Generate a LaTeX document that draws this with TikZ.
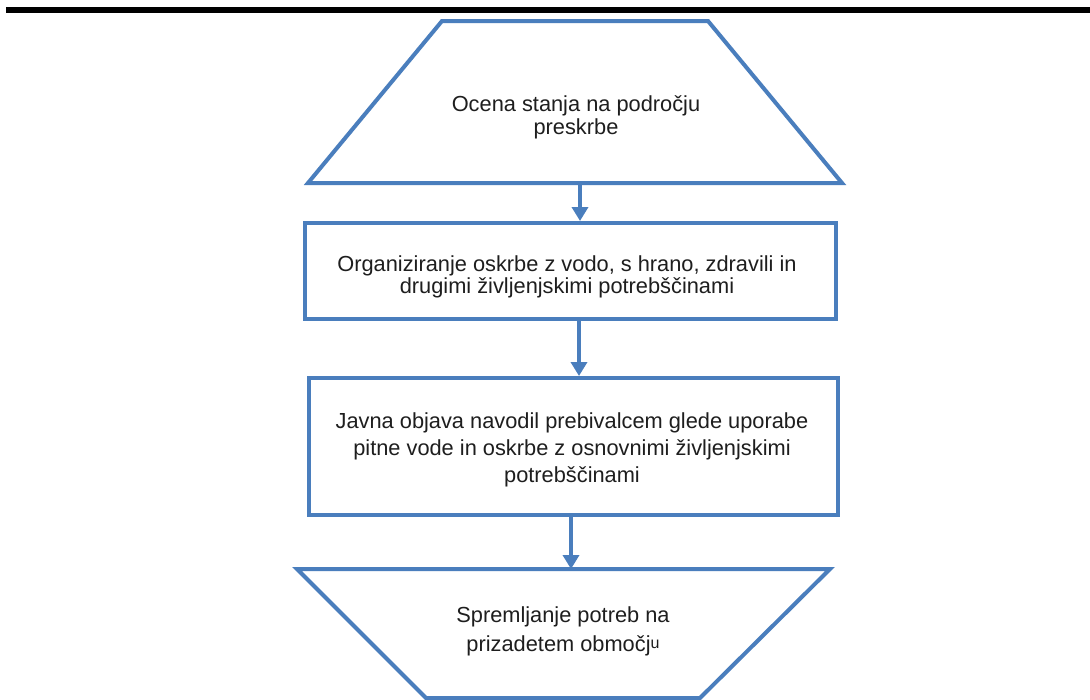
\documentclass[tikz,border=0pt]{standalone}
\usepackage{fontspec}
\setmainfont{Liberation Sans}
\usetikzlibrary{arrows.meta}
\definecolor{flowblue}{RGB}{74,126,189}
\definecolor{flowtext}{RGB}{30,30,30}
\begin{document}
\begin{tikzpicture}[x=1pt,y={(0pt,-1pt)},
  shapeline/.style={draw=flowblue,line width=4pt,line join=miter},
  boxnode/.style={shapeline,rectangle,inner sep=0pt},
  label/.style={text=flowtext,align=center,inner sep=0pt},
  arr/.style={draw=flowblue,line width=4pt,-{Triangle[length=14pt,width=16pt]}}]
\useasboundingbox[fill=white] (0,0) rectangle (1090,699);
% top rule
\draw[line width=6pt,black] (6,9.5) -- (1090,9.5);
% first trapezoid
\coordinate (t1tl) at (442,21);
\coordinate (t1tr) at (708,21);
\coordinate (t1br) at (842,183);
\coordinate (t1bl) at (308,183);
\coordinate (t1b) at (580,183);
\draw[shapeline] (t1tl) -- (t1tr) -- (t1br) -- (t1bl) -- cycle;
\node[label,font=\fontsize{21.8}{22.5}\selectfont] (t1) at (576,117.5) {Ocena stanja na področju\\preskrbe};
% box 2
\node[boxnode,minimum width=531pt,minimum height=96pt] (r2) at (570.5,271) {};
\node[label,font=\fontsize{21.8}{22}\selectfont] (r2t) at (567,277) {Organiziranje oskrbe z vodo, s hrano, zdravili in\\drugimi življenjskimi potrebščinami};
% box 3
\node[boxnode,minimum width=529pt,minimum height=137pt] (r3) at (573.5,446.5) {};
\node[label,font=\fontsize{21.8}{27}\selectfont] (r3t) at (572,450) {Javna objava navodil prebivalcem glede uporabe\\pitne vode in oskrbe z osnovnimi življenjskimi\\potrebščinami};
% last trapezoid
\coordinate (t4tl) at (297,569);
\coordinate (t4tr) at (830,569);
\coordinate (t4br) at (700,698);
\coordinate (t4bl) at (426,698);
\coordinate (t4t) at (571,569);
\draw[shapeline] (t4tl) -- (t4tr) -- (t4br) -- (t4bl) -- cycle;
\node[label,font=\fontsize{21.8}{29}\selectfont] (t4) at (563,631) {Spremljanje potreb na\\prizadetem območj\raisebox{3pt}{\fontsize{16}{16}\selectfont u}};
% connectors
\draw[arr] (t1b) -- (t1b |- r2.north);
\draw[arr] (r2.south -| 579,0) -- (r3.north -| 579,0);
\draw[arr] (r3.south -| t4t) -- (t4t);
\end{tikzpicture}
\end{document}
